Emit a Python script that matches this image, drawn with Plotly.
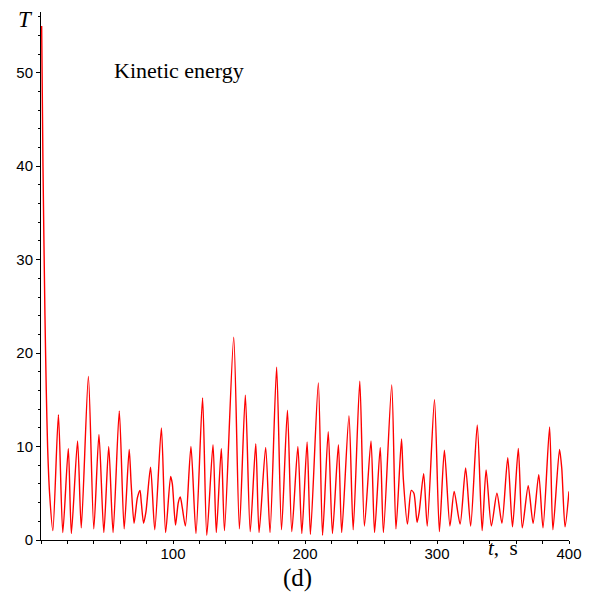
import plotly.graph_objects as go

# time (s) and kinetic energy T (peaks / troughs / shoulders)
t_vals = [0.5, 1.5, 3, 4, 5, 6.5, 9, 13.2, 16.5, 20.7, 23, 27.7, 30.5, 35.9, 40, 43.9, 47.6,
          51.3, 54.6, 59.3, 63, 66.8, 68.3, 70.5, 73, 75, 76, 77.7, 79.5, 83, 86.2, 91.2,
          94.4, 98.2, 99.5, 101.9, 104, 105.5, 107, 109.4, 113.6, 117.4, 122.4, 125.6,
          130.3, 132.8, 136.6, 139, 146, 150.3, 154.8, 158.5, 162.7, 165.2, 170.2, 173.5,
          178.5, 182.2, 186.7, 190, 194.6, 197.6, 201.6, 204.1, 210.1, 213.3, 217.6, 220.8,
          225.3, 227.8, 233.3, 236.5, 241.5, 245, 250, 252.7, 257, 259.4, 265.7, 268.9,
          273.1, 274.5, 277.6, 280.5, 282.5, 284.9, 286.5, 289.9, 292.6, 298.1, 301.8,
          305.6, 309.8, 313, 317.5, 321.7, 325.5, 330.5, 334.2, 337.2, 341.2, 345.4, 349.2,
          353.6, 357.2, 361.6, 364.6, 369.1, 372.8, 377.1, 380.3, 385.3, 387.8, 392.8,
          394.5, 397, 400]
T_vals = [55, 40, 24, 16, 10, 5, 1, 13.4, 0.8, 9.8, 0.7, 10.6, 1.3, 17.5, 1.2, 11.3, 0.8,
          10, 0.8, 13.8, 1.2, 9.7, 6, 1.8, 4.5, 5.3, 4, 1.8, 3, 7.8, 1.1, 12,
          0.8, 6.8, 6, 1.6, 4, 4.6, 3.5, 1.5, 10, 0.7, 15.2, 0.5,
          10.2, 0.8, 9.8, 1, 21.7, 1.2, 15.5, 0.9, 10.3, 0.8, 9.9, 0.8,
          18.5, 1.1, 13.9, 0.9, 10, 0.7, 10.5, 0.6, 16.8, 0.5, 11.6, 0.7,
          10.2, 0.8, 13.3, 1.1, 17, 1.5, 10.6, 0.8, 9.9, 0.8, 16.6, 1.2,
          10.8, 6.5, 1.7, 5.3, 5, 1.9, 3, 7.1, 1.5, 15, 0.9,
          9.6, 1.5, 5.2, 1.7, 7.7, 1.5, 12.3, 1, 7.5, 1.5, 5, 1.8,
          8.8, 1.4, 9.8, 1.3, 5.8, 1.8, 7, 1.3, 12.1, 1.1, 9.7,
          7.7, 1.4, 5.2]

x_ticks = [100, 200, 300, 400]
y_ticks = [0, 10, 20, 30, 40, 50]

fig = go.Figure()
fig.add_trace(go.Scatter(x=t_vals, y=T_vals, mode="lines",
                         line=dict(color="#ff0000", width=1.4, shape="spline", smoothing=0.7),
                         hoverinfo="skip", showlegend=False))

axis_font = dict(family="Liberation Sans, Arial, sans-serif", size=15, color="#000000")
fig.update_xaxes(range=[0, 400], tickvals=x_ticks, ticktext=[str(v) for v in x_ticks],
                 showline=True, linecolor="black", linewidth=1, ticks="outside", ticklen=3,
                 tickcolor="black", showgrid=False, zeroline=False, tickfont=axis_font,
                 ticklabelstandoff=-3,
                 minor=dict(dtick=20, tick0=0, ticks="outside", ticklen=3, tickcolor="black"))
fig.update_yaxes(range=[0, 56.5], tickvals=y_ticks, ticktext=[str(v) for v in y_ticks],
                 showline=True, linecolor="black", linewidth=1, ticks="outside", ticklen=4,
                 tickcolor="black", showgrid=False, zeroline=False, tickfont=axis_font,
                 minor=dict(dtick=2, tick0=0, ticks="outside", ticklen=2, tickcolor="black"))

serif = "Liberation Serif, Times New Roman, serif"
fig.update_layout(
    width=594, height=595,
    margin=dict(l=41, r=15, t=12, b=55),
    paper_bgcolor="white", plot_bgcolor="white",
    annotations=[
        dict(text="<i>T</i>", xref="paper", yref="paper", x=-0.012, y=0.985, xanchor="right",
             yanchor="middle", showarrow=False, font=dict(family=serif, size=23, color="black")),
        dict(text="Kinetic energy", xref="x", yref="y", x=54, y=50.2, xanchor="left",
             yanchor="middle", showarrow=False, font=dict(family=serif, size=22, color="black")),
        dict(text="<i>t</i>,&nbsp;&nbsp;s", xref="x", yref="paper", x=350, y=-0.016,
             xanchor="center", yanchor="middle", showarrow=False,
             font=dict(family=serif, size=21, color="black")),
        dict(text="(d)", xref="paper", yref="paper", x=0.485, y=-0.072, xanchor="center",
             yanchor="middle", showarrow=False, font=dict(family=serif, size=25, color="black")),
    ],
)

fig.write_html("out.html")
